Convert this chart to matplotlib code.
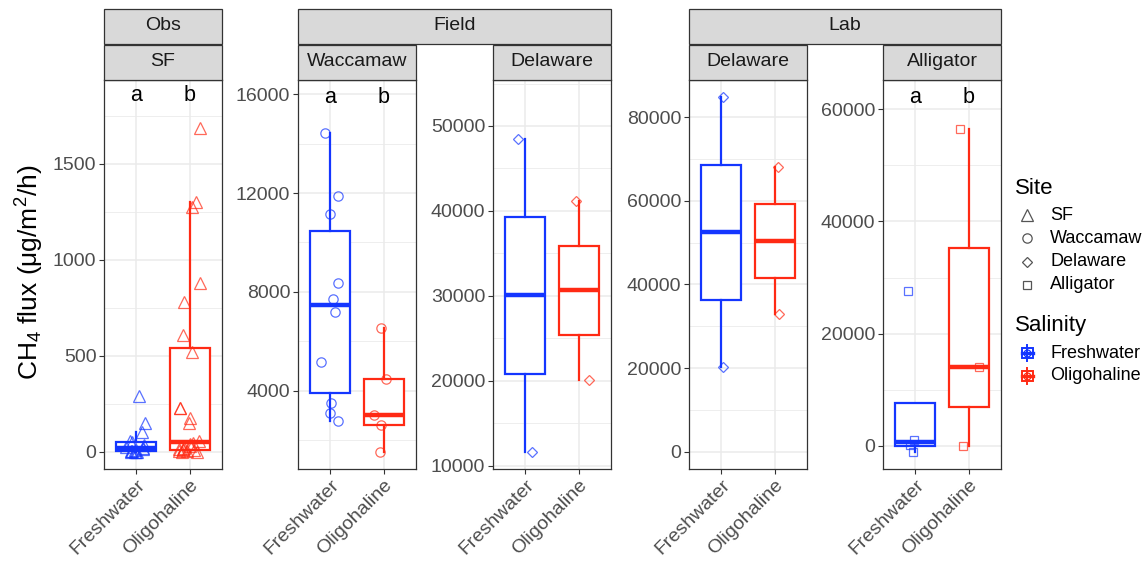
import numpy as np
import matplotlib
matplotlib.use('Agg')
import matplotlib.pyplot as plt
from matplotlib.patches import Rectangle
from matplotlib.ticker import MultipleLocator

plt.rcParams['font.family'] = ['Liberation Sans', 'DejaVu Sans']
plt.rcParams['mathtext.fontset'] = 'custom'
plt.rcParams['mathtext.rm'] = 'Liberation Sans'
plt.rcParams['mathtext.it'] = 'Liberation Sans:italic'

W, H = 1146, 564

# ---- data (CH4 flux, ug/m2/h) ----
salinity = ['Freshwater', 'Oligohaline']
groups = ['Obs', 'Field', 'Lab']
panel_sites = ['SF', 'Waccamaw', 'Delaware', 'Delaware', 'Alligator']
site_names = ['SF', 'Waccamaw', 'Delaware', 'Alligator']

sf_fresh = [290, 149, 106, 58, 52, 34, 26, 22, 15, 9, 5, 3, 2, 1, 0, 0]
sf_oligo = [1686, 1300, 1275, 878, 783, 609, 522, 227, 227, 177, 151,
            55, 44, 40, 30, 22, 17, 13, 10, 8, 5, 3, 1, 0]
wac_fresh = [14412, 11879, 11152, 8351, 7705, 7205, 5184, 3503, 3099, 2788]
wac_oligo = [6532, 4485, 3030, 2626, 1549]
delf_fresh = [48469, 11640]
delf_oligo = [41202, 20083]
dell_fresh = [84785, 20191]
dell_oligo = [68038, 32871]
all_fresh = [27654, 1017, 197, -1070]
all_oligo = [56450, 13987, 0]

panel_fresh = [sf_fresh, wac_fresh, delf_fresh, dell_fresh, all_fresh]
panel_oligo = [sf_oligo, wac_oligo, delf_oligo, dell_oligo, all_oligo]
letters = [['a', 'b'], ['a', 'b'], None, None, ['a', 'b']]
yticks = [[0, 500, 1000, 1500],
          [4000, 8000, 12000, 16000],
          [10000, 20000, 30000, 40000, 50000],
          [0, 20000, 40000, 60000, 80000],
          [0, 20000, 40000, 60000]]
ylims = [(-89, 1937), (848, 16566), (9600, 55418), (-4139, 88923), (-4157, 65245)]

# ---- style ----
blue = '#1436FF'
red = '#FF2A14'
markers = {'SF': '^', 'Waccamaw': 'o', 'Delaware': 'D', 'Alligator': 's'}
msizes = {'SF': 8.5, 'Waccamaw': 6.7, 'Delaware': 5.2, 'Alligator': 6.2}
grid_c = '#EBEBEB'
dark = '#333333'
tick_c = '#4D4D4D'

panel_x = [104, 298, 493, 689, 883]
pw = 118
ptop, pbot = 80, 469

fig = plt.figure(figsize=(W / 100, H / 100), dpi=100)
rng = np.random.default_rng(7)

for i in range(5):
    ax = fig.add_axes([panel_x[i] / W, (H - pbot) / H, pw / W, (pbot - ptop) / H])
    site = panel_sites[i]
    for j, (vals, c) in enumerate([(panel_fresh[i], blue), (panel_oligo[i], red)]):
        pos = j + 1
        ax.boxplot(vals, positions=[pos], widths=0.75, whis=1.5, showfliers=False,
                   showcaps=False, patch_artist=True, manage_ticks=False,
                   boxprops=dict(facecolor='white', edgecolor=c, linewidth=1.6),
                   whiskerprops=dict(color=c, linewidth=1.6),
                   medianprops=dict(color=c, linewidth=3.2, solid_capstyle='butt'),
                   zorder=2)
        jit = rng.uniform(-0.2, 0.2, len(vals))
        ax.plot(pos + jit, vals, ls='none', marker=markers[site], ms=msizes[site],
                mfc='none', mec=c, mew=0.9, alpha=0.7, zorder=3)
        if letters[i] is not None:
            top = 1.1 * max(panel_fresh[i] + panel_oligo[i])
            ax.text(pos, top, letters[i][j], ha='center', va='center',
                    fontsize=15.5, color='black', zorder=4)

    ax.set_xlim(0.4, 2.6)
    ax.set_ylim(*ylims[i])
    ax.set_xticks([1, 2])
    ax.set_xticklabels(salinity, rotation=45, ha='right', va='top',
                       rotation_mode='anchor')
    ax.set_yticks(yticks[i])
    ax.set_yticklabels([str(v) for v in yticks[i]])
    step = yticks[i][1] - yticks[i][0]
    ax.yaxis.set_minor_locator(MultipleLocator(step / 2))
    ax.tick_params(which='major', length=3.5, width=0.8, color=dark,
                   labelsize=14, labelcolor=tick_c, pad=2)
    ax.tick_params(which='minor', length=0)
    ax.set_axisbelow(True)
    ax.grid(which='major', color=grid_c, lw=1.1)
    ax.grid(which='minor', axis='y', color=grid_c, lw=0.6)
    for s in ax.spines.values():
        s.set_color(dark)
        s.set_linewidth(0.9)

# overlay in pixel coordinates for strips, legend
lay = fig.add_axes([0, 0, 1, 1])
lay.set_xlim(0, W)
lay.set_ylim(H, 0)
lay.axis('off')

strip_fc = '#D9D9D9'
for i in range(5):
    lay.add_patch(Rectangle((panel_x[i], 44.5), pw, 35, fc=strip_fc, ec=dark, lw=0.9))
    lay.text(panel_x[i] + pw / 2, 62, panel_sites[i], ha='center', va='center',
             fontsize=14, color='#1A1A1A')
spans = [(0, 0), (1, 2), (3, 4)]
for g, (a, b) in zip(groups, spans):
    x0 = panel_x[a]
    x1 = panel_x[b] + pw
    lay.add_patch(Rectangle((x0, 8.5), x1 - x0, 35, fc=strip_fc, ec=dark, lw=0.9))
    lay.text((x0 + x1) / 2, 26, g, ha='center', va='center', fontsize=14, color='#1A1A1A')

fig.text(30 / W, 1 - 272 / H, r'CH$_\mathregular{4}$ flux (μg/m$^\mathregular{2}$/h)',
         rotation=90, ha='center', va='center', fontsize=19)

# legend: Site
lay.text(1015, 188, 'Site', ha='left', va='center', fontsize=16)
for k, name in enumerate(site_names):
    y = 215 + k * 23.3
    lay.plot([1027], [y], ls='none', marker=markers[name], ms=msizes[name],
             mfc='none', mec='#555555', mew=0.9)
    lay.text(1050, y, name, ha='left', va='center', fontsize=13)

# legend: Salinity
lay.text(1015, 326, 'Salinity', ha='left', va='center', fontsize=16)
for k, (name, c) in enumerate(zip(salinity, [blue, red])):
    y = 353 + k * 22.5
    lay.plot([1027, 1027], [y - 8, y + 8], color=c, lw=1.4)
    lay.add_patch(Rectangle((1021.5, y - 5), 11, 10, fc='white', ec=c, lw=1.4))
    lay.plot([1021.5, 1032.5], [y, y], color=c, lw=2.4)
    lay.plot([1027], [y], ls='none', marker='o', ms=5, mfc='none', mec=c, mew=0.9)
    lay.text(1050, y, name, ha='left', va='center', fontsize=13)

fig.savefig('out.png', dpi=100)
